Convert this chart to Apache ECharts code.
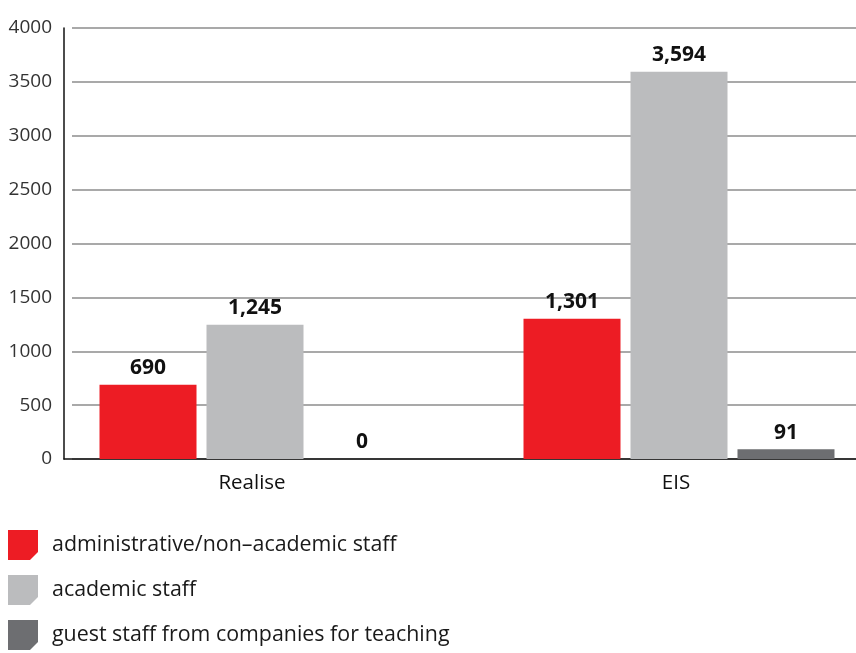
<!DOCTYPE html>
<html>
<head>
<meta charset="utf-8">
<script src="https://cdn.jsdelivr.net/npm/echarts@6/dist/echarts.min.js"></script>
<style>html,body{margin:0;padding:0;background:#fff}#c{width:856px;height:653px}</style>
</head>
<body>
<div id="c"></div>
<script>
const categories = ['Realise', 'EIS'];
const seriesNames = ['administrative/non\u2013academic staff', 'academic staff', 'guest staff from companies for teaching'];
const adminStaff = [690, 1301];
const academicStaff = [1245, 3594];
const guestStaff = [0, 91];
const colors = ['#ED1C24', '#BBBCBE', '#6D6E71'];
const yTicks = { min: 0, max: 4000, interval: 500 };

const FONT = '"Open Sans", sans-serif';
const chart = echarts.init(document.getElementById('c'), null, { renderer: 'canvas' });
const icon = 'path://M0,0 L30,0 L30,22 L22,30 L0,30 Z';
const fmt = p => p.value.toLocaleString('en-US');

const values = [adminStaff, academicStaff, guestStaff];
const series = values.map((v, i) => ({
  name: seriesNames[i],
  type: 'bar',
  xAxisIndex: 2,
  yAxisIndex: 2,
  data: v,
  barWidth: 97,
  barGap: '10.3%',
  clip: false,
  itemStyle: { color: colors[i] },
  label: {
    show: true, position: 'top', distance: 6,
    fontFamily: FONT, fontWeight: 'bold', fontSize: 21, color: '#111',
    formatter: fmt
  },
  z: 5
}));

chart.setOption({
  animation: false,
  color: colors,
  grid: [
    { left: 64, right: 0, top: 28, bottom: 194 },
    { left: 72, right: 0, top: 28, bottom: 194 },
    { left: 255, right: 177, top: 28, bottom: 194 }
  ],
  xAxis: [
    { gridIndex: 0, type: 'category', data: categories, axisLine: { show: true, lineStyle: { color: '#111', width: 1.5 } }, axisTick: { show: false }, axisLabel: { show: false } },
    { gridIndex: 1, type: 'category', data: categories, show: false },
    { gridIndex: 2, type: 'category', data: categories, boundaryGap: false, axisLine: { show: false }, axisTick: { show: false },
      axisLabel: { fontFamily: FONT, fontSize: 20.5, color: '#111', margin: 14, padding: [0, 6, 0, 0] } }
  ],
  yAxis: [
    { gridIndex: 0, type: 'value', min: yTicks.min, max: yTicks.max, interval: yTicks.interval,
      axisLine: { show: true, lineStyle: { color: '#111', width: 1.5 } }, axisTick: { show: false },
      splitLine: { show: false },
      axisLabel: { fontFamily: FONT, fontSize: 19, color: '#333', margin: 12, formatter: v => String(v) } },
    { gridIndex: 1, type: 'value', min: yTicks.min, max: yTicks.max, interval: yTicks.interval,
      axisLine: { show: false }, axisTick: { show: false }, axisLabel: { show: false },
      splitLine: { show: true, lineStyle: { color: '#8c8c8c', width: 1.5 } } },
    { gridIndex: 2, type: 'value', min: yTicks.min, max: yTicks.max, interval: yTicks.interval, show: false,
      splitLine: { show: false } }
  ],
  legend: {
    orient: 'vertical', left: 8, top: 530, padding: 0,
    itemWidth: 30, itemHeight: 30, itemGap: 15,
    icon: icon,
    textStyle: { fontFamily: FONT, fontSize: 21.4, color: '#1a1a1a', padding: [3, 0, 0, 9] },
    data: seriesNames
  },
  series: series
});
</script>
</body>
</html>
